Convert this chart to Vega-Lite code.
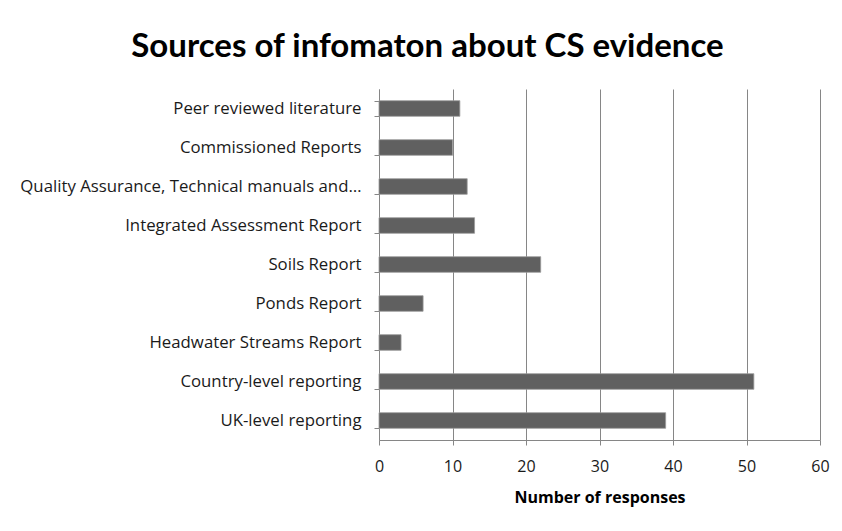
{
  "$schema": "https://vega.github.io/schema/vega-lite/v6.json",
  "autosize": {"type": "none"},
  "width": 441,
  "height": 351,
  "padding": {"left": 379, "top": 89, "right": 22, "bottom": 91},
  "background": "white",
  "title": {
    "text": "Sources of infomaton about CS evidence",
    "font": "Lato",
    "fontSize": 33,
    "fontWeight": "bold",
    "color": "#000000",
    "anchor": "middle",
    "dx": -172,
    "offset": 17
  },
  "data": {
    "values": [
      {"source": "Peer reviewed literature", "responses": 11},
      {"source": "Commissioned Reports", "responses": 10},
      {"source": "Quality Assurance, Technical manuals and…", "responses": 12},
      {"source": "Integrated Assessment Report", "responses": 13},
      {"source": "Soils Report", "responses": 22},
      {"source": "Ponds Report", "responses": 6},
      {"source": "Headwater Streams Report", "responses": 3},
      {"source": "Country-level reporting", "responses": 51},
      {"source": "UK-level reporting", "responses": 39}
    ]
  },
  "mark": {"type": "bar", "color": "#606060", "stroke": "#9a9a9a", "strokeWidth": 0.8},
  "encoding": {
    "y": {
      "field": "source",
      "type": "nominal",
      "sort": null,
      "scale": {"paddingInner": 0.6, "paddingOuter": 0.3},
      "axis": {
        "title": null,
        "tickBand": "extent",
        "labelFont": "Open Sans",
        "labelFontSize": 16.8,
        "labelColor": "#1a1a1a",
        "labelPadding": 13,
        "labelLimit": 400,
        "tickSize": 5,
        "tickColor": "#868686",
        "domainColor": "#868686",
        "grid": false
      }
    },
    "x": {
      "field": "responses",
      "type": "quantitative",
      "scale": {"domain": [0, 60], "nice": false},
      "axis": {
        "values": [0, 10, 20, 30, 40, 50, 60],
        "title": "Number of responses",
        "titleFont": "Open Sans",
        "titleFontSize": 16,
        "titleFontWeight": "bold",
        "titleColor": "#000000",
        "titlePadding": 15,
        "labelFont": "Open Sans",
        "labelFontSize": 16,
        "labelColor": "#1a1a1a",
        "labelPadding": 13,
        "labelFlush": false,
        "tickSize": 5,
        "tickColor": "#868686",
        "domainColor": "#868686",
        "grid": true,
        "gridColor": "#868686",
        "gridWidth": 1
      }
    }
  },
  "config": {"view": {"stroke": null}}
}
